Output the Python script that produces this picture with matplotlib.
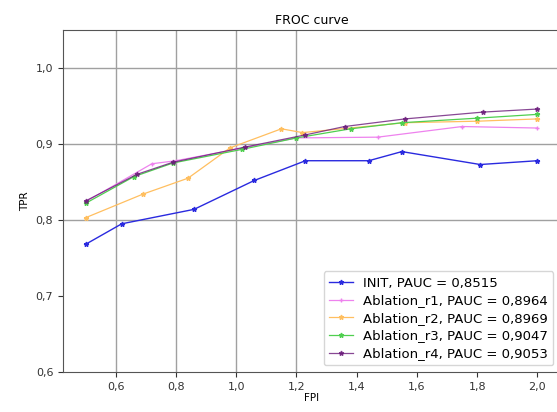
import matplotlib
matplotlib.use('Agg')
import matplotlib.pyplot as plt
from matplotlib.ticker import FuncFormatter

# FPI / TPR points
init_x = [0.5, 0.62, 0.86, 1.06, 1.23, 1.44, 1.55, 1.81, 2.0]
init_y = [0.768, 0.795, 0.814, 0.852, 0.878, 0.878, 0.890, 0.873, 0.878]

r1_x = [0.5, 0.72, 0.8, 1.0, 1.2, 1.47, 1.75, 2.0]
r1_y = [0.824, 0.874, 0.878, 0.893, 0.908, 0.909, 0.923, 0.921]

r2_x = [0.5, 0.69, 0.84, 0.98, 1.15, 1.22, 1.56, 1.8, 2.0]
r2_y = [0.803, 0.834, 0.855, 0.895, 0.920, 0.915, 0.928, 0.930, 0.933]

r3_x = [0.5, 0.66, 0.79, 1.02, 1.2, 1.38, 1.55, 1.8, 2.0]
r3_y = [0.822, 0.857, 0.875, 0.893, 0.908, 0.920, 0.928, 0.934, 0.939]

r4_x = [0.5, 0.67, 0.79, 1.03, 1.23, 1.36, 1.56, 1.82, 2.0]
r4_y = [0.825, 0.860, 0.876, 0.896, 0.912, 0.923, 0.933, 0.942, 0.946]

labels = ['INIT, PAUC = 0,8515', 'Ablation_r1, PAUC = 0,8964',
          'Ablation_r2, PAUC = 0,8969', 'Ablation_r3, PAUC = 0,9047',
          'Ablation_r4, PAUC = 0,9053']

x_ticks = [0.6, 0.8, 1.0, 1.2, 1.4, 1.6, 1.8, 2.0]
y_ticks = [0.6, 0.7, 0.8, 0.9, 1.0]
grid_x = [0.6, 0.8, 1.0, 1.2]
grid_y = [0.8, 0.9, 1.0]

fig = plt.figure(figsize=(5.57, 4.12), dpi=100)
ax = fig.add_axes([63 / 557, 1 - 372 / 412, 497 / 557, 342 / 412])

for g in grid_x:
    ax.axvline(g, color='#a0a0a0', lw=1.0, zorder=0)
for g in grid_y:
    ax.axhline(g, color='#a0a0a0', lw=1.0, zorder=0)

ax.plot(init_x, init_y, color='#2a2adf', marker='*', ms=3.5, lw=1.0, label=labels[0])
ax.plot(r1_x, r1_y, color='violet', marker='+', ms=3.5, lw=0.9, label=labels[1])
ax.plot(r2_x, r2_y, color='#ffbf60', marker='*', ms=3.5, lw=0.9, label=labels[2])
ax.plot(r3_x, r3_y, color='#4fcf4f', marker='*', ms=3.5, lw=0.9, label=labels[3])
ax.plot(r4_x, r4_y, color='#6a1a7a', marker='*', ms=3.5, lw=0.9, alpha=0.8, label=labels[4])

ax.set_xlim(0.425, 2.075)
ax.set_ylim(0.6, 1.05)
ax.set_xticks(x_ticks)
ax.set_yticks(y_ticks)
comma = FuncFormatter(lambda v, p: ('%.1f' % v).replace('.', ','))
ax.xaxis.set_major_formatter(comma)
ax.yaxis.set_major_formatter(comma)
ax.tick_params(labelsize=8, colors='#333333')
for s in ax.spines.values():
    s.set_color('#555555')

ax.set_title('FROC curve', fontsize=9, pad=4)
ax.set_xlabel('FPI', fontsize=7.5, labelpad=1)
ax.set_ylabel('TPR', fontsize=7.5)
ax.legend(loc='lower right', fontsize=9.5, labelspacing=0.35,
          handlelength=1.8, borderaxespad=0.5)

fig.savefig('out.png', dpi=100)
